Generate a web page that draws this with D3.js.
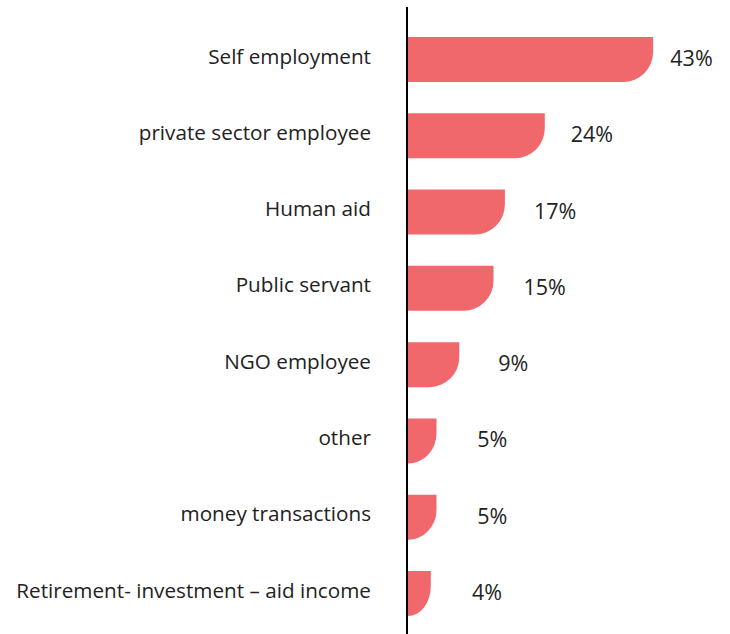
<!DOCTYPE html>
<html>
<head>
<meta charset="utf-8">
<script src="https://cdn.jsdelivr.net/npm/d3@7"></script>
<style>
  html, body { margin: 0; padding: 0; background: #fff; }
  svg { display: block; }
  text { font-family: "Open Sans", "Noto Sans", sans-serif; fill: #222; }
</style>
</head>
<body>
<svg id="chart" width="730" height="634"></svg>
<script>
// Sources of income (% of respondents)
const categories = [
  "Self employment",
  "private sector employee",
  "Human aid",
  "Public servant",
  "NGO employee",
  "other",
  "money transactions",
  "Retirement- investment \u2013 aid income"
];
const values = [43, 24, 17, 15, 9, 5, 5, 4];
const valueLabels = ["43%", "24%", "17%", "15%", "9%", "5%", "5%", "4%"];

const data = categories.map((c, i) => ({ cat: c, val: values[i], label: valueLabels[i] }));

const W = 730, H = 634;
const axisX = 407;
const svg = d3.select("#chart");

const x = d3.scaleLinear().domain([0, 100]).range([axisX + 1, axisX + 1 + 570]);
const y = d3.scaleBand().domain(categories).range([37, 616]).paddingInner(0.41).paddingOuter(0);

const R = 30; // corner radius of the rounded bar end

// Bar with a rounded bottom-right corner
function barPath(d) {
  const x0 = x(0), x1 = x(d.val);
  const y0 = y(d.cat), y1 = y0 + y.bandwidth();
  const w = x1 - x0;
  const rx = Math.min(R, w), ry = Math.min(R, y.bandwidth());
  return `M${x0},${y0}H${x1}V${y1 - ry}A${rx},${ry} 0 0 1 ${x1 - rx},${y1}H${x0}Z`;
}

svg.append("g")
  .selectAll("path")
  .data(data)
  .join("path")
  .attr("d", barPath)
  .attr("fill", "#f0686b");

// Category labels
const yAxis = d3.axisLeft(y).tickSize(0).tickPadding(36);
const gy = svg.append("g")
  .attr("transform", `translate(${axisX},0)`)
  .call(yAxis);
gy.select(".domain").remove();
gy.selectAll("text")
  .attr("font-size", 20.7)
  .attr("font-family", "'Open Sans', 'Noto Sans', sans-serif")
  .attr("fill", "#222")
  .attr("dy", "0.2em");

// Vertical baseline
svg.append("line")
  .attr("x1", axisX).attr("x2", axisX)
  .attr("y1", 7).attr("y2", H)
  .attr("stroke", "#000")
  .attr("stroke-width", 2);

// Value labels, set a little way past each bar end
const labelX = d => x(0) + (x(d.val) - x(0)) * 0.92 + 58;
svg.append("g")
  .selectAll("text")
  .data(data)
  .join("text")
  .attr("x", labelX)
  .attr("y", d => y(d.cat) + y.bandwidth() / 2)
  .attr("dy", "0.3em")
  .attr("text-anchor", "middle")
  .attr("font-size", 21.5)
  .text(d => d.label);
</script>
</body>
</html>
